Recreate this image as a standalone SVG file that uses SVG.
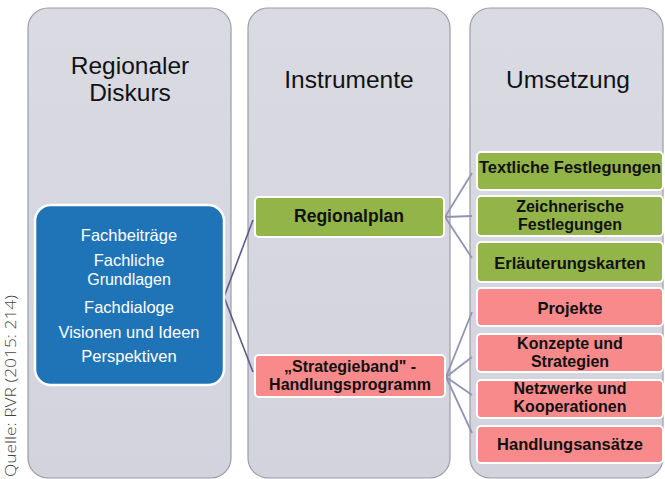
<svg xmlns="http://www.w3.org/2000/svg" width="665" height="479" viewBox="0 0 665 479">
<defs>
<linearGradient id="colg" x1="0" y1="0" x2="0" y2="1">
<stop offset="0" stop-color="#d9dae2"/>
<stop offset="1" stop-color="#d2d3dd"/>
</linearGradient>
</defs>
<style>
.col{fill:url(#colg);stroke:#9c9ca6;stroke-width:1.2}
.title{font-family:"Liberation Sans",Arial,sans-serif;font-size:24.5px;fill:#111;text-anchor:middle}
.blue{fill:#1f74b8;stroke:#fff;stroke-width:2.5}
.green{fill:#93b448;stroke:#fff;stroke-width:2}
.pink{fill:#f88a8c;stroke:#fff;stroke-width:2}
.wt{font-family:"Liberation Sans",Arial,sans-serif;font-size:16.5px;fill:#fff;text-anchor:middle}
.bt{font-family:"Liberation Sans",Arial,sans-serif;font-size:16.5px;font-weight:bold;fill:#111;text-anchor:middle}
.bt2{font-family:"Liberation Sans",Arial,sans-serif;font-size:16px;font-weight:bold;fill:#111;text-anchor:middle}
.c1{stroke:#5d5b8e;stroke-width:1.6;fill:none}
.c2{stroke:#9393b4;stroke-width:1.8;fill:none}
.src{font-family:"Open Sans","DejaVu Sans",sans-serif;font-size:15px;font-weight:300;fill:#444}
</style>
<rect width="665" height="479" fill="#ffffff"/>
<text class="src" transform="translate(16,477) rotate(-90)" textLength="182" lengthAdjust="spacingAndGlyphs">Quelle: RVR (2015: 214)</text>
<g id="col-diskurs">
<rect class="col" x="28" y="8" width="203" height="470" rx="20"/>
<text class="title" x="130" y="74">Regionaler</text>
<text class="title" x="130" y="101">Diskurs</text>
</g>
<g id="col-instrumente">
<rect class="col" x="248" y="8" width="202" height="470" rx="20"/>
<text class="title" x="349" y="88">Instrumente</text>
</g>
<g id="col-umsetzung">
<rect class="col" x="470" y="8" width="193" height="470" rx="20"/>
<text class="title" x="568" y="88">Umsetzung</text>
</g>
<g id="connectors">
<polyline class="c1" points="253,220 224,297 253,372"/>
<path class="c2" d="M472,173 L445,217 L472,258 M445,217 L472,216"/>
<path class="c2" d="M472,312 L446,377 L472,433 M446,377 L472,357 M446,377 L472,395"/>
</g>
<g id="diskurs-inhalte">
<rect class="blue" x="35" y="205" width="189" height="180" rx="16"/>
<text class="wt" x="129" y="241">Fachbeiträge</text>
<text class="wt" x="129" y="266">Fachliche</text>
<text class="wt" x="129" y="285" style="font-size:16px">Grundlagen</text>
<text class="wt" x="129" y="313">Fachdialoge</text>
<text class="wt" x="129" y="338">Visionen und Ideen</text>
<text class="wt" x="129" y="362">Perspektiven</text>
</g>
<g id="regionalplan">
<rect class="green" x="255" y="197" width="189" height="40" rx="4"/>
<text class="bt" x="349" y="222" style="font-size:17.5px">Regionalplan</text>
</g>
<g id="strategieband">
<rect class="pink" x="255" y="355" width="190" height="42" rx="4"/>
<text class="bt2" x="350" y="372">„Strategieband" -</text>
<text class="bt2" x="350" y="390">Handlungsprogramm</text>
</g>
<g id="textliche">
<rect class="green" x="477" y="152" width="186" height="38" rx="4"/>
<text class="bt" x="570" y="173">Textliche Festlegungen</text>
</g>
<g id="zeichnerische">
<rect class="green" x="477" y="196" width="186" height="40" rx="4"/>
<text class="bt2" x="570" y="212">Zeichnerische</text>
<text class="bt2" x="570" y="230">Festlegungen</text>
</g>
<g id="erlaeuterungskarten">
<rect class="green" x="477" y="242" width="186" height="40" rx="4"/>
<text class="bt" x="570" y="269">Erläuterungskarten</text>
</g>
<g id="projekte">
<rect class="pink" x="477" y="288" width="186" height="38" rx="4"/>
<text class="bt" x="570" y="314">Projekte</text>
</g>
<g id="konzepte">
<rect class="pink" x="477" y="334" width="186" height="38" rx="4"/>
<text class="bt2" x="570" y="349">Konzepte und</text>
<text class="bt2" x="570" y="367">Strategien</text>
</g>
<g id="netzwerke">
<rect class="pink" x="477" y="380" width="186" height="38" rx="4"/>
<text class="bt2" x="570" y="394">Netzwerke und</text>
<text class="bt2" x="570" y="412">Kooperationen</text>
</g>
<g id="handlungsansaetze">
<rect class="pink" x="477" y="426" width="186" height="37" rx="4"/>
<text class="bt" x="570" y="450">Handlungsansätze</text>
</g>
</svg>
